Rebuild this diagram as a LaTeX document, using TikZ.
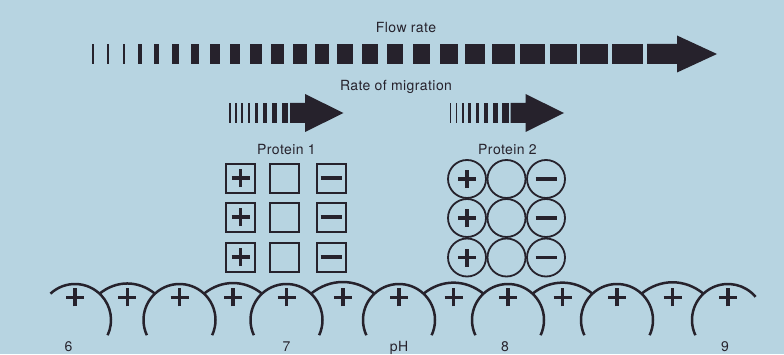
\documentclass[tikz,border=0pt]{standalone}
\usepackage{fontspec}
\setmainfont{TeX Gyre Heros}[LetterSpace=3]
\usetikzlibrary{positioning,calc}
\definecolor{bgblue}{RGB}{183,212,225}
\definecolor{ink}{RGB}{38,34,44}

\begin{document}
\begin{tikzpicture}[x=1pt, y=1pt,
   txt/.style={font=\fontsize{14}{16}\selectfont, text=ink, inner sep=0, anchor=base},
   sq/.style={rectangle, draw=ink, line width=2, minimum size=29, inner sep=0},
   ball/.style={circle, draw=ink, line width=1.8, minimum size=38, inner sep=0},
   sign/.style={draw=ink, line width=3.5},
   bead/.style={draw=ink, line width=2.5},
   pics/plussign/.style={code={\draw[sign] (-9,0) -- (9,0) (0,-9) -- (0,9);}},
   pics/minussign/.style={code={\draw[sign] (-10.5,0) -- (10.5,0);}},
   pics/migration/.style={code={
      \foreach \x/\w in {0/1.5, 6/1.7, 12/2, 18.5/2.5, 26/3, 34/4, 43/5, 52.5/6.5}
         \fill[ink] (\x,-10) rectangle ++(\w,20);
      \fill[ink] (61,-10) -- (76,-10) -- (76,-19) -- (114.5,0) -- (76,19) -- (76,10) -- (61,10) -- cycle;}}]
   \fill[bgblue] (0,0) rectangle (784,354);

   \node (flow) at (406,321) [txt] {Flow rate};
   \foreach \x/\w in {92/1.5, 106.5/2, 122.5/2.5, 137.5/4, 153.5/5, 171.5/7, 190.5/8, 210/9.5,
      229.5/10.5, 250/11.5, 271/12.5, 293/14, 315/14, 337/16, 361.5/16.5, 387/16, 413/17,
      440/18, 465/20, 492/23, 520/25, 550/27, 580/28, 612/31}
      \fill[ink] (\x,290) rectangle ++(\w,20);
   \fill[ink] (647,290) -- (677,290) -- (677,281.5) -- (717,300) -- (677,318.5) -- (677,310) -- (647,310) -- cycle;

   \node (migr) at (396,263) [txt] {Rate of migration};
   \pic at (229,241) {migration};
   \pic at (449.5,241) {migration};

   \node (prot1) at (286.5,200) [txt] {Protein 1};
   \node (prot2) at (507.5,200) [txt] {Protein 2};
   \foreach \y [count=\r] in {176,137,97} {
      \node (s\r a) at (240.5,\y) [sq] {};
      \node (s\r b) at (284.5,\y) [sq] {};
      \node (s\r c) at (331,\y) [sq] {};
      \pic at (s\r a) {plussign};
      \pic at (s\r c) {minussign};
   }
   \foreach \y [count=\r] in {175,136,96.5} {
      \node (c\r a) at (467,\y) [ball] {};
      \node (c\r b) at (506.5,\y) [ball] {};
      \node (c\r c) at (546,\y) [ball] {};
      \pic at (c\r a) {plussign};
      \pic at (c\r c) {minussign};
   }

   \foreach \x [count=\i] in {75,179.5,286.5,399,508,617,728}
      \coordinate (b\i) at (\x,34);
   \draw[bead] ([shift={(133:36)}]b1) arc[start angle=133, end angle=-25, radius=36];
   \foreach \i in {2,...,6}
      \draw[bead] ([shift={(205:36)}]b\i) arc[start angle=205, end angle=-25, radius=36];
   \draw[bead] ([shift={(205:36)}]b7) arc[start angle=205, end angle=40, radius=36];
   \foreach \i [evaluate=\i as \j using int(\i+1)] in {1,...,6} {
      \draw[bead] ([shift={(47:36)}]b\i) to[bend left=39] ([shift={(133:36)}]b\j);
      \pic at ([shift={(0,22.7)}]b\i) {plussign};
      \pic at ($(b\i)!0.5!(b\j)+(0,22.7)$) {plussign};
   }
   \pic at ([shift={(0,22.7)}]b7) {plussign};

   \node (ph6) at (68.5,2.5) [txt] {6};
   \node (ph7) at (286.5,2.5) [txt] {7};
   \node (ph) at (399,2.5) [txt] {pH};
   \node (ph8) at (505,2.5) [txt] {8};
   \node (ph9) at (725,2.5) [txt] {9};
\end{tikzpicture}
\end{document}
